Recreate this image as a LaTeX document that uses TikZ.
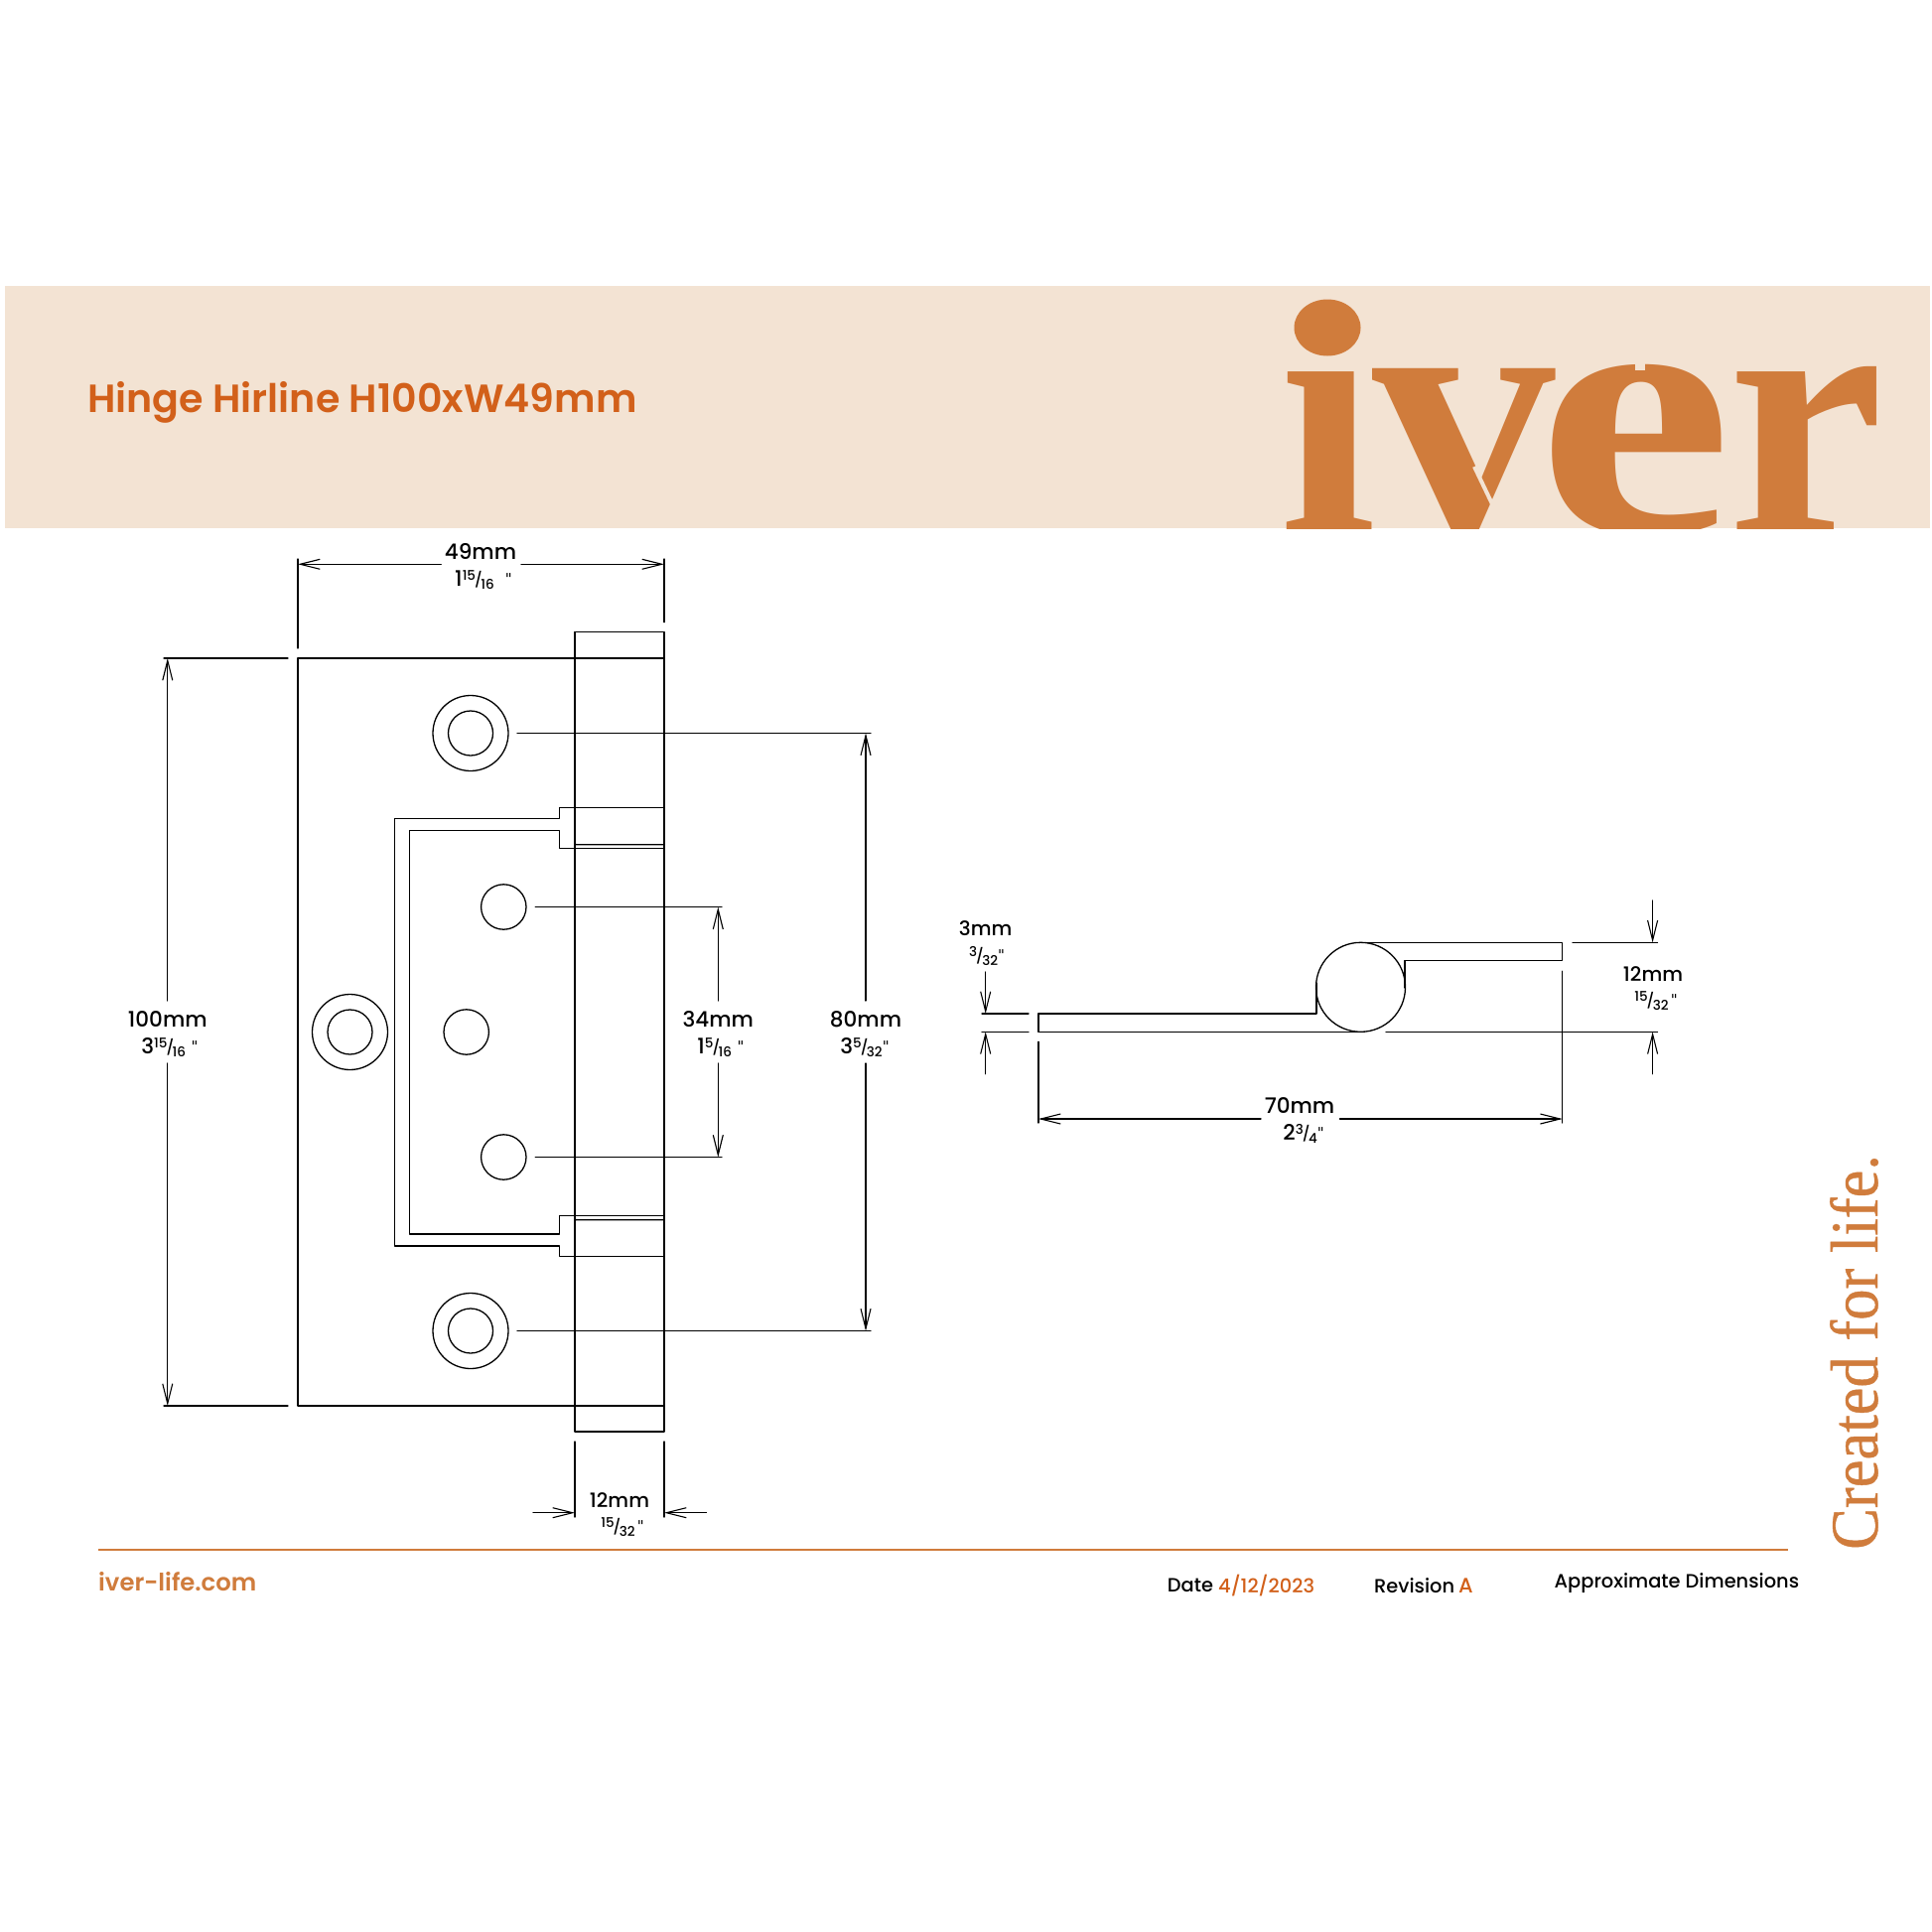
\documentclass[tikz,border=0pt]{standalone}
\usepackage{fontspec}
\usepackage{graphicx}
\usetikzlibrary{arrows.meta}
\setmainfont{Poppins}
\newfontfamily\sem{Poppins SemiBold}
\newfontfamily\med{Poppins Medium}
\newfontfamily\qf{DejaVu Sans}
\newfontfamily\srf{Liberation Serif}[Ligatures=NoCommon,FakeBold=0.6,FakeStretch=0.92]
\newfontfamily\srb{Liberation Serif Bold}
\definecolor{bannerc}{HTML}{F3E3D3}
\definecolor{logoc}{HTML}{D07C3C}
\definecolor{titlec}{HTML}{D2601A}
\newcommand{\fz}[1]{\fontsize{#1}{#1}\selectfont}
\newcommand{\frc}[2]{{\fz{13.5}\raisebox{6pt}{#1}\kern-1pt\raisebox{1pt}{\fz{15}/}\kern-1.5pt\raisebox{-2.5pt}{#2}}}
\newcommand{\qt}{{\qf\fz{15}\raisebox{2pt}{"}}}
\tikzset{
  ln/.style={line width=1.3pt,line cap=round,line join=round},
  dima/.style={ln,-{Straight Barb[length=20pt,width=10pt,line width=1.1pt]}},
  lab/.style={inner sep=0pt,font=\med\fz{21.5}},
  labs/.style={inner sep=0pt,font=\med\fz{13}},
  cut/.style={bannerc,line cap=butt},
}
\begin{document}
\begin{tikzpicture}[x=1pt,y=-1pt]
\useasboundingbox (0,0) rectangle (1946,1946);
\fill[white] (0,0) rectangle (1946,1946);
% banner
\fill[bannerc] (5,288.3) rectangle (1944,532.3);
\node[anchor=west,inner sep=0pt,font=\sem\fz{39.6},text=titlec] (title) at (88,405.5) {Hinge Hirline H100xW49mm};
\begin{scope}
\clip (5,288.3) rectangle (1944,532.3);
\node[anchor=base west,inner sep=0pt,text=logoc,font=\srb\fz{355}] (logo) at (1288,537) {i\kern-4pt\scalebox{1.04}[1.02]{v}\kern-19pt\scalebox{1.25}[1.02]{e}\kern-4.7pt r};
% enlarged i dot and stencil cuts of the wordmark
\fill[bannerc] (1290,288.3) rectangle (1385,359);
\fill[logoc] (1337,330) ellipse[x radius=33.5,y radius=28.5];
\draw[cut,line width=10pt] (1652,355) -- (1652,373);
\draw[cut,line width=4pt] (1485,470) -- (1507,516);
\end{scope}
% plate
\draw[ln] (669,663) -- (300,663) -- (300,1416) -- (669,1416);
\draw[ln] (579,636.7) rectangle (669,1442);
% leaf outline
\draw[ln] (669,813.7) -- (563.3,813.7) -- (563.3,824.3) -- (397.3,824.3) -- (397.3,1255.1) -- (563.3,1255.1) -- (563.3,1265.7) -- (669,1265.7);
\draw[ln] (669,854.7) -- (563.3,854.7) -- (563.3,836.3) -- (412.7,836.3) -- (412.7,1243.1) -- (563.3,1243.1) -- (563.3,1224.7) -- (669,1224.7);
\draw[ln] (579,849.5) -- (580,850.7) -- (669,850.7);
\draw[ln] (579,1229.9) -- (580,1228.7) -- (669,1228.7);
% holes
\foreach \p in {(474,738.5),(474,1340.5),(352.5,1039.5)}{
  \draw[ln] \p circle[radius=38];
  \draw[ln] \p circle[radius=22.5];
}
\foreach \p in {(507.3,913.5),(507.3,1165.5),(469.7,1039.5)}{
  \draw[ln] \p circle[radius=22.7];
}
% 49mm
\draw[ln] (300,563) -- (300,653);
\draw[ln] (669,563) -- (669,626.7);
\draw[dima] (444.3,568.3) -- (300,568.3);
\draw[dima] (525,568.3) -- (669,568.3);
\node[lab] (t49) at (484,555) {49mm};
\node[lab] (t49b) at (487,584) {1\frc{15}{16}\ \ \qt};
% 100mm
\draw[ln] (165,663) -- (290,663);
\draw[ln] (165,1416) -- (290,1416);
\draw[dima] (168.8,1008) -- (168.8,663);
\draw[dima] (168.8,1071) -- (168.8,1416);
\node[lab] (t100) at (168.8,1026.5) {100mm};
\node[lab] (t100b) at (171,1055) {3\frc{15}{16}\ \qt};
% 34mm
\draw[ln] (539.3,913.7) -- (727,913.7);
\draw[ln] (539.3,1165.5) -- (727,1165.5);
\draw[dima] (723.3,1008) -- (723.3,913.7);
\draw[dima] (723.3,1071) -- (723.3,1165.5);
\node[lab] (t34) at (723.3,1026.5) {34mm};
\node[lab] (t34b) at (726,1055) {1\frc{5}{16}\ \qt};
% 80mm
\draw[ln] (521,738.5) -- (877,738.5);
\draw[ln] (521,1340.5) -- (877,1340.5);
\draw[dima] (872,1008) -- (872,738.5);
\draw[dima] (872,1071) -- (872,1340.5);
\node[lab] (t80) at (872,1026.5) {80mm};
\node[lab] (t80b) at (871,1055) {3\frc{5}{32}\qt};
% bottom 12mm
\draw[ln] (579,1452) -- (579,1528);
\draw[ln] (669,1452) -- (669,1528);
\draw[dima] (537,1523.7) -- (579,1523.7);
\draw[dima] (711.5,1523.7) -- (669,1523.7);
\node[lab,font=\med\fz{20}] (t12) at (624,1511) {12mm};
\node[labs] (t12b) at (627,1538) {\frc{15}{32}\,\qt};
% side view
\draw[ln] (1370.5,994.3) circle[radius=45];
\draw[ln] (1326,990) -- (1326,1021) -- (1046,1021) -- (1046,1039.3) -- (1372,1039.3);
\draw[ln] (1415,995) -- (1415,967.7) -- (1573.7,967.7) -- (1573.7,949.3) -- (1368,949.3);
\draw[ln] (1396,1039.3) -- (1669.5,1039.3);
\draw[ln] (1584,949.3) -- (1669.5,949.3);
\draw[dima] (1664.6,907) -- (1664.6,949.3);
\draw[dima] (1664.6,1081.7) -- (1664.6,1039.3);
\node[lab,font=\med\fz{20}] (t12s) at (1665,981) {12mm};
\node[labs] (t12sb) at (1668,1008) {\frc{15}{32}\,\qt};
% 3mm
\draw[ln] (989,1021) -- (1036,1021);
\draw[ln] (989,1039.3) -- (1036,1039.3);
\draw[dima] (992.7,979) -- (992.7,1021);
\draw[dima] (992.7,1081.7) -- (992.7,1039.3);
\node[lab,font=\med\fz{20}] (t3) at (992.7,935) {3mm};
\node[labs] (t3b) at (994,963) {\frc{3}{32}\qt};
% 70mm
\draw[ln] (1046,1049.3) -- (1046,1131);
\draw[ln] (1573.7,978.3) -- (1573.7,1131);
\draw[dima] (1270,1127) -- (1046,1127);
\draw[dima] (1349.5,1127) -- (1573.7,1127);
\node[lab] (t70) at (1309,1114) {70mm};
\node[lab] (t70b) at (1313,1142) {2\frc{3}{4}\qt};
% footer
\draw[logoc,line width=2pt] (99,1560.7) -- (1800.7,1560.7);
\node[anchor=west,inner sep=0pt,text=logoc,font=\sem\fz{24.3}] (site) at (99,1593) {iver-life.com};
\node[anchor=west,inner sep=0pt,font=\med\fz{19.4}] (date) at (1175.7,1597) {Date};
\node[anchor=west,inner sep=0pt,text=titlec,font=\med\fz{19.4}] (dated) at (1227,1597) {4/12/2023};
\node[anchor=west,inner sep=0pt,font=\med\fz{19.4}] (rev) at (1384,1597) {Revision};
\node[anchor=west,inner sep=0pt,text=titlec,font=\med\fz{21}] (reva) at (1469,1597) {A};
\node[anchor=west,inner sep=0pt,font=\med\fz{19.4}] (appr) at (1565.5,1595) {Approximate Dimensions};
% tagline
\node[anchor=base west,inner sep=0pt,rotate=90,text=logoc,font=\srf\fz{68}] (tag) at (1891,1561) {Created for life.};
\end{tikzpicture}
\end{document}
